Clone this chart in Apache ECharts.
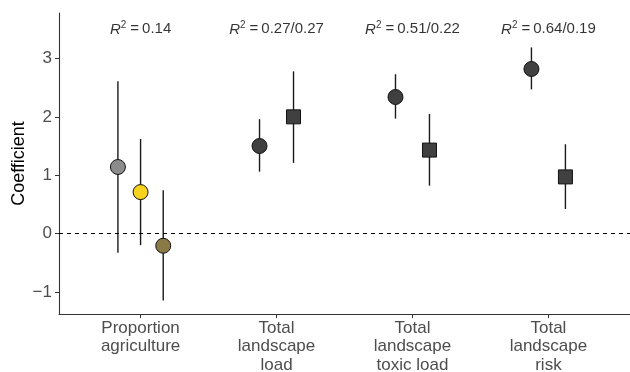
<!DOCTYPE html>
<html>
<head>
<meta charset="utf-8">
<script src="https://cdn.jsdelivr.net/npm/echarts@6/dist/echarts.min.js"></script>
<style>html,body{margin:0;padding:0;background:#fff}#c{width:630px;height:372px}</style>
</head>
<body>
<div id="c"></div>
<script>
// ---- data ----
const categories = ['Proportion\nagriculture', 'Total\nlandscape\nload', 'Total\nlandscape\ntoxic load', 'Total\nlandscape\nrisk'];
const r2Labels = ['0.14', '0.27/0.27', '0.51/0.22', '0.64/0.19'];
const yTicks = [-1, 0, 1, 2, 3];
const pointGroup = [1, 1, 1, 2, 2, 3, 3, 4, 4];
const pointIndex = [0, 1, 2, 0, 1, 0, 1, 0, 1];
const groupSize = [3, 3, 3, 2, 2, 2, 2, 2, 2];
const estimate = [1.14, 0.71, -0.21, 1.50, 2.00, 2.34, 1.43, 2.82, 0.97];
const lower = [-0.33, -0.20, -1.15, 1.06, 1.21, 1.97, 0.82, 2.47, 0.42];
const upper = [2.61, 1.62, 0.74, 1.96, 2.78, 2.73, 2.05, 3.19, 1.53];
const shape = ['circle', 'circle', 'circle', 'circle', 'rect', 'circle', 'rect', 'circle', 'rect'];
const fill = ['#8c8c8c', '#f7d21e', '#8b7a45', '#404040', '#404040', '#404040', '#404040', '#404040', '#404040'];

// ---- layout / style ----
const DODGE = 0.5;
const xPos = pointGroup.map((g, i) => g + (pointIndex[i] - (groupSize[i] - 1) / 2) * DODGE / groupSize[i]);
const font = 'Liberation Sans, Arial, Helvetica, sans-serif';
const LABEL_Y = 3.5;

const chart = echarts.init(document.getElementById('c'));
chart.setOption({
  animation: false,
  grid: { left: 59, right: 0, top: 13, bottom: 58, containLabel: false, outerBoundsMode: 'none' },
  xAxis: {
    type: 'value', min: 0.4, max: 4.6,
    splitLine: { show: false },
    axisLine: { show: true, onZero: false, lineStyle: { color: '#333', width: 1.1 } },
    axisTick: { show: true, customValues: [1, 2, 3, 4], length: 4, lineStyle: { color: '#333' } },
    axisLabel: {
      show: true, customValues: [1, 2, 3, 4],
      formatter: v => categories[Math.round(v) - 1],
      color: '#4d4d4d', fontSize: 17, fontFamily: font, lineHeight: 18.5, margin: 5
    }
  },
  yAxis: {
    type: 'value', min: -1.38, max: 3.78,
    name: 'Coefficient', nameLocation: 'middle', nameGap: 31, nameMoveOverlap: false,
    nameTextStyle: { color: '#000', fontSize: 18, fontFamily: font },
    splitLine: { show: false },
    axisLine: { show: true, lineStyle: { color: '#333', width: 1.1 } },
    axisTick: { show: true, customValues: yTicks, length: 4, lineStyle: { color: '#333' } },
    axisLabel: {
      show: true, customValues: yTicks,
      formatter: v => (v < 0 ? '\u2212' + Math.abs(v) : String(v)),
      color: '#4d4d4d', fontSize: 17, fontFamily: font, margin: 7
    }
  },
  series: [
    {
      type: 'line', data: [], silent: true,
      markLine: {
        silent: true, symbol: 'none', label: { show: false },
        lineStyle: { color: '#000', type: [4, 4], width: 1 },
        data: [{ yAxis: 0 }]
      }
    },
    {
      type: 'custom', silent: true, z: 2,
      data: xPos.map((x, i) => [x, lower[i], upper[i]]),
      renderItem: (params, api) => {
        const a = api.coord([api.value(0), api.value(1)]);
        const b = api.coord([api.value(0), api.value(2)]);
        return { type: 'line', shape: { x1: a[0], y1: a[1], x2: b[0], y2: b[1] }, style: { stroke: '#1a1a1a', lineWidth: 1.4 } };
      }
    },
    {
      type: 'scatter', z: 3,
      data: xPos.map((x, i) => ({
        value: [x, estimate[i]],
        symbol: shape[i],
        symbolSize: shape[i] === 'rect' ? 14 : 15,
        itemStyle: { color: fill[i], borderColor: '#111', borderWidth: 1, opacity: 1 }
      }))
    },
    {
      type: 'scatter', z: 4, symbolSize: 0, silent: true,
      data: r2Labels.map((t, i) => [i + 1, LABEL_Y, t]),
      label: {
        show: true, position: 'inside',
        formatter: p => '{r|R}{s|2}{t|\u2009=\u2009' + p.value[2] + '}',
        rich: {
          r: { fontStyle: 'italic', fontSize: 15, fontFamily: font, color: '#000' },
          s: { fontSize: 10, fontFamily: font, color: '#000', padding: [0, 1, 8, 0] },
          t: { fontSize: 15, fontFamily: font, color: '#000' }
        }
      }
    }
  ]
});
</script>
</body>
</html>
